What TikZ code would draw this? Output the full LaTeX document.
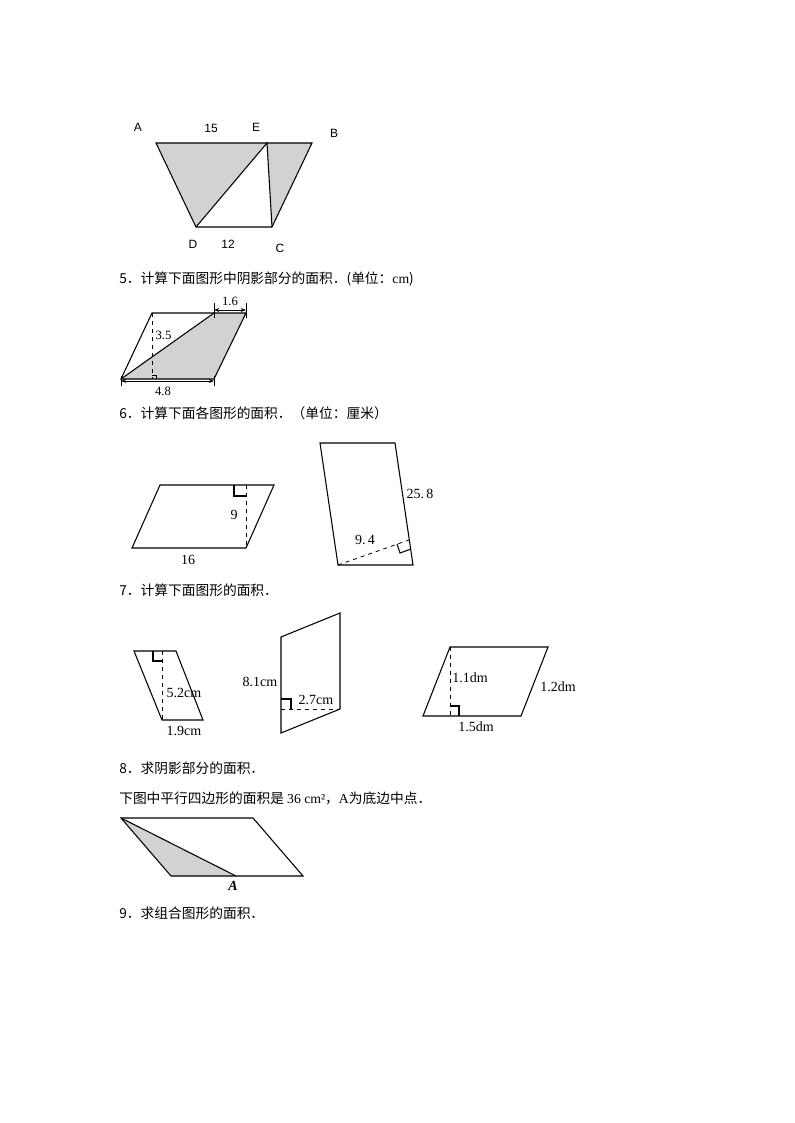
\documentclass[tikz,border=0pt]{standalone}
\usepackage{fontspec}
\setmainfont{Liberation Serif}
\newfontfamily\cjk{Noto Sans CJK SC}
\newfontfamily\sans{Liberation Sans}
\usetikzlibrary{arrows.meta}
\begin{document}
\begin{tikzpicture}[x=0.75pt,y=-0.75pt,
  fig/.style={draw,line width=0.8pt,line join=miter},
  hgt/.style={draw,dashed,line width=0.6pt},
  shade/.style={fill=gray!35},
  lbl/.style={font=\fontsize{10.5}{11}\selectfont,inner sep=1pt},
  slbl/.style={font=\sans\fontsize{9}{10}\selectfont,inner sep=1pt},
  qtext/.style={anchor=west,font=\cjk\fontsize{10.3}{12}\selectfont,inner sep=0pt}]
\useasboundingbox (0,0) rectangle (794,1123);
% figure 4
\coordinate (A) at (156,143); \coordinate (E) at (267,143); \coordinate (B) at (312,143);
\coordinate (D) at (196,227); \coordinate (C) at (272,227);
\fill[shade] (A)--(E)--(D)--cycle; \fill[shade] (E)--(B)--(C)--cycle;
\draw[fig] (A)--(B)--(C)--(D)--cycle; \draw[fig] (D)--(E)--(C);
\node[slbl] (la) at (138,127) {A}; \node[slbl] (l15) at (211,128) {15};
\node[slbl] (le) at (256,127) {E}; \node[slbl] (lb) at (334,133) {B};
\node[slbl] (ld) at (193,244) {D}; \node[slbl] (l12) at (228,244) {12};
\node[slbl] (lc) at (280,248) {C};
\node[qtext] (q5) at (119,279) {5．计算下面图形中阴影部分的面积．(单位：{\rmfamily cm})};
% figure 5
\coordinate (p1) at (121,379); \coordinate (p2) at (214,379); \coordinate (p3) at (246,313);
\coordinate (p4) at (152,313); \coordinate (pf) at (214,313);
\fill[shade] (p1)--(pf)--(p3)--(p2)--cycle;
\draw[fig] (p1)--(p2)--(p3)--(p4)--cycle; \draw[fig] (p1)--(pf);
\draw[hgt] (152,313)--(152,379);
\draw[line width=0.5pt] (152,375)--(156,375)--(156,379);
\node[lbl,anchor=west,font=\fontsize{9.5}{10}\selectfont] (l35) at (154,335) {3.5};
\draw[line width=0.6pt] (214,303)--(214,318) (246,303)--(246,318);
\draw[{Stealth[length=4pt]}-{Stealth[length=4pt]},line width=0.6pt] (214,310)--(246,310);
\node[lbl,font=\fontsize{9.5}{10}\selectfont] (l16) at (230,301) {1.6};
\draw[line width=0.6pt] (121,376)--(121,386) (214,376)--(214,386);
\draw[{Stealth[length=4pt]}-{Stealth[length=4pt]},line width=0.6pt] (121,381)--(214,381);
\node[lbl,font=\fontsize{9.5}{10}\selectfont] (l48) at (163,391) {4.8};
\node[qtext] (q6) at (119,413) {6．计算下面各图形的面积．（单位：厘米）};
% figure 6a
\draw[fig] (132,548)--(246,548)--(274,485)--(160,485)--cycle;
\draw[hgt] (246,485)--(246,548);
\draw[line width=0.8pt] (234,485)--(234,496)--(246,496);
\node[lbl] (l9) at (234,515) {9}; \node[lbl] (l16b) at (188,560) {16};
% figure 6b
\draw[fig] (320,443)--(395,443)--(413,565)--(338,565)--cycle;
\draw[hgt] (338,565)--(409,540);
\draw[line width=0.8pt] (397,544)--(400,553)--(411,549);
\node[lbl] (l258) at (420,494) {25.\,8}; \node[lbl] (l94) at (365,540) {9.\,4};
\node[qtext] (q7) at (119,590) {7．计算下面图形的面积．};
% figure 7a
\draw[fig] (134,651)--(176,651)--(203,720)--(162,720)--cycle;
\draw[hgt] (162,651)--(162,720);
\draw[line width=0.8pt] (153,651)--(153,661)--(162,661);
\node[lbl] (l52) at (184,693) {5.2cm}; \node[lbl] (l19) at (184,731) {1.9cm};
% figure 7b
\draw[fig] (281,637)--(340,613)--(340,709)--(281,733)--cycle;
\draw[hgt] (281,709)--(340,709);
\draw[line width=0.8pt] (281,699)--(291,699)--(291,709);
\node[lbl] (l81) at (260,682) {8.1cm}; \node[lbl] (l27) at (316,700) {2.7cm};
% figure 7c
\draw[fig] (423,716)--(521,716)--(548,647)--(450,647)--cycle;
\draw[hgt] (450,647)--(450,716);
\draw[line width=0.8pt] (450,706)--(459,706)--(459,716);
\node[lbl] (l11) at (470,678) {1.1dm}; \node[lbl] (l12d) at (558,687) {1.2dm};
\node[lbl] (l15d) at (476,727) {1.5dm};
\node[qtext] (q8) at (119,768) {8．求阴影部分的面积．};
\node[qtext] (q8b) at (119,798) {下图中平行四边形的面积是 {\rmfamily 36 cm²}，{\rmfamily A}为底边中点．};
% figure 8
\coordinate (g1) at (121,818); \coordinate (g2) at (253,818); \coordinate (g3) at (303,876);
\coordinate (g4) at (171,876); \coordinate (gA) at (236,876);
\fill[shade] (g1)--(g4)--(gA)--cycle;
\draw[fig] (g1)--(g2)--(g3)--(g4)--cycle; \draw[fig] (g1)--(gA);
\node[lbl,font=\bfseries\itshape\fontsize{10.5}{11}\selectfont] (lA) at (233,886) {A};
\node[qtext] (q9) at (119,913) {9．求组合图形的面积．};
\end{tikzpicture}
\end{document}
